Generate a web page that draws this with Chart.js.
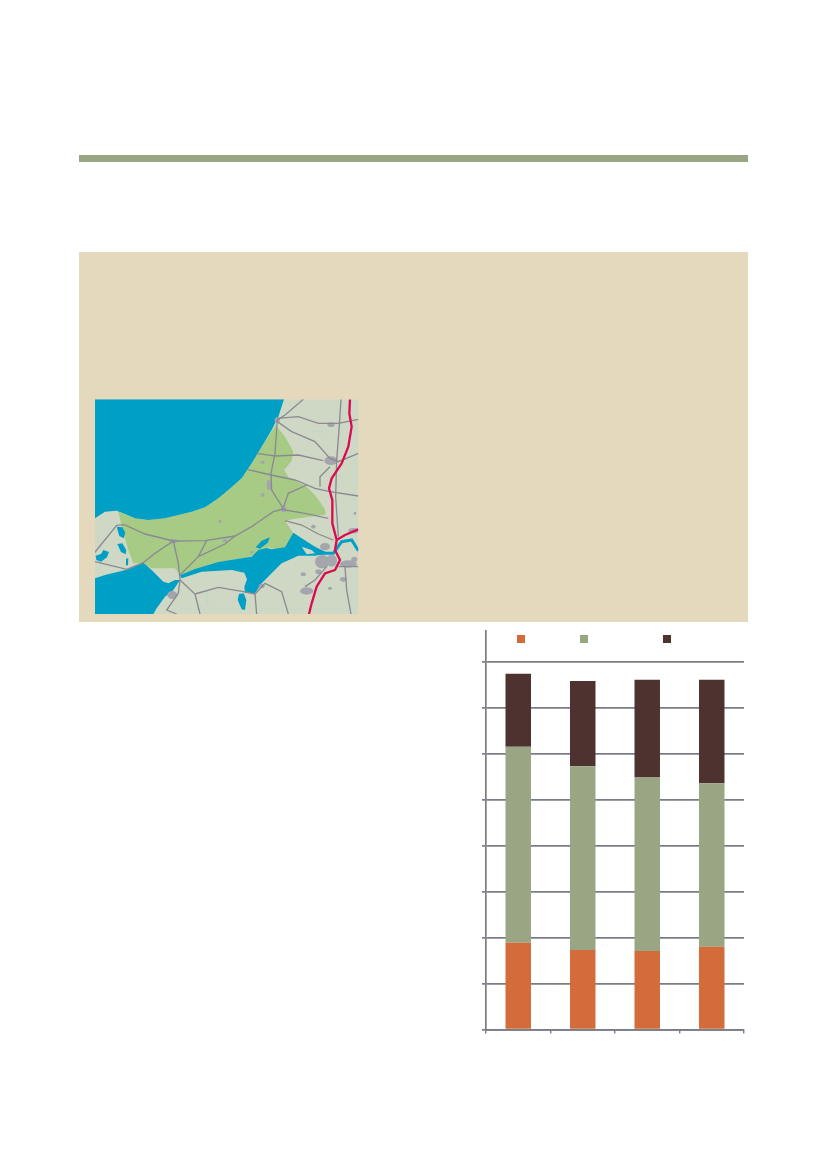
<!DOCTYPE html>
<html>
<head>
<meta charset="utf-8">
<style>
html, body { margin: 0; padding: 0; background: #fff; }
#page { position: relative; width: 827px; height: 1169px; overflow: hidden; }
#rule { position: absolute; left: 79px; top: 155px; width: 669px; height: 7px; background: #9aa583; }
#panel { position: absolute; left: 79px; top: 252px; width: 669px; height: 370px; background: #e4d8bd; }
#map { position: absolute; left: 85px; top: 390px; width: 285px; height: 235px; }
#chart_box { position: absolute; left: 470px; top: 620px; width: 277px; height: 430px; }
.swatch { position: absolute; top: 635px; width: 8px; height: 8px; }
</style>
</head>
<body>
<div id="page">
  <div id="rule"></div>
  <div id="panel"></div>

  <svg id="map" viewBox="0 0 855 705">
    <defs><clipPath id="frame"><rect x="30" y="28" width="790" height="644"/></clipPath></defs>
    <g clip-path="url(#frame)">
      <rect x="30" y="28" width="790" height="644" fill="#cfd8c4"/>
      <!-- green area -->
      <path fill="#a7cb85" d="M100,365 L150,385 L190,390 L240,385 L280,375 L320,365 L360,352 L400,325 L430,300 L470,265 L500,220 L530,170 L572,105 L600,140 L625,185 L620,212 L598,240 L610,262 L665,290 L690,315 L720,358 L722,374 L690,378 L640,385 L600,392 L625,430 L610,465 L585,482 L550,472 L520,490 L490,502 L440,510 L380,525 L330,540 L285,556 L270,535 L240,535 L200,535 L170,520 L145,520 L130,480 L115,430 Z"/>
      <!-- sea -->
      <path fill="#00a0c6" d="M30,28 L597,28 L580,80 L560,120 L530,170 L500,220 L470,265 L430,300 L400,325 L360,352 L320,365 L280,375 L240,385 L190,390 L150,385 L120,372 L95,362 L60,365 L30,385 Z"/>
      <path fill="#00a0c6" d="M30,565 L60,555 L100,545 L130,538 L175,518 L200,540 L235,575 L250,580 L270,570 L285,570 L265,600 L240,620 L215,655 L205,672 L30,672 Z"/>
      <!-- lagoon -->
      <path fill="#00a0c6" d="M285,556 L330,537 L400,516 L470,505 L500,500 L520,480 L545,474 L560,478 L600,472 L625,428 L650,445 L690,470 L730,490 L690,497 L640,497 L590,520 L560,550 L530,580 L510,610 L480,608 L478,590 L486,568 L478,548 L440,540 L350,545 L290,565 Z"/>
      <path fill="none" stroke="#00a0c6" stroke-width="9" d="M650,470 L690,490 L745,490 L770,455 L800,450 L820,482"/>
      <path fill="#cfd8c4" d="M650,470 L680,480 L690,490 L665,493 Z"/>
      <!-- lakes -->
      <path fill="#00a0c6" d="M95,410 L112,412 L121,428 L116,445 L103,438 Z"/>
      <path fill="#00a0c6" d="M97,462 L112,460 L124,480 L122,493 L108,486 Z"/>
      <path fill="#00a0c6" d="M32,497 L48,492 L55,480 L72,486 L66,502 L48,515 L34,510 Z"/>
      <path fill="#00a0c6" d="M123,506 L130,505 L129,526 L123,526 Z"/>
      <path fill="#00a0c6" d="M462,612 L476,610 L484,630 L480,660 L470,658 L458,630 Z"/>
      <path fill="#00a0c6" d="M512,472 L530,452 L555,442 L548,458 L525,476 Z"/>
      <path fill="none" stroke="#a9d4d8" stroke-width="1.5" d="M680,125 L710,122 L730,140 M365,600 L368,640 L390,665"/>
      <!-- urban -->
      <g fill="#a5a5ad">
        <ellipse cx="738" cy="212" rx="20" ry="13"/><ellipse cx="596" cy="357" rx="9" ry="10"/>
        <ellipse cx="262" cy="615" rx="15" ry="12"/><ellipse cx="265" cy="453" rx="12" ry="7"/>
        <ellipse cx="577" cy="90" rx="8" ry="8"/><ellipse cx="552" cy="285" rx="7" ry="16"/>
        <ellipse cx="738" cy="104" rx="11" ry="7"/><ellipse cx="533" cy="315" rx="6" ry="6"/>
        <ellipse cx="712" cy="515" rx="22" ry="20"/><ellipse cx="740" cy="512" rx="16" ry="18"/>
        <ellipse cx="720" cy="470" rx="15" ry="11"/><ellipse cx="790" cy="522" rx="26" ry="11"/>
        <ellipse cx="808" cy="508" rx="9" ry="8"/><ellipse cx="700" cy="545" rx="9" ry="7"/>
        <ellipse cx="665" cy="603" rx="20" ry="11"/><ellipse cx="775" cy="568" rx="10" ry="7"/>
        <ellipse cx="655" cy="553" rx="8" ry="6"/><ellipse cx="805" cy="422" rx="15" ry="8"/>
        <ellipse cx="530" cy="588" rx="9" ry="6"/><ellipse cx="420" cy="452" rx="7" ry="5"/>
        <ellipse cx="533" cy="217" rx="7" ry="5"/><ellipse cx="685" cy="410" rx="7" ry="6"/>
        <ellipse cx="405" cy="394" rx="5" ry="5"/><ellipse cx="500" cy="487" rx="5" ry="4"/>
        <ellipse cx="735" cy="595" rx="6" ry="5"/><ellipse cx="810" cy="370" rx="4" ry="5"/>
      </g>
      <!-- roads -->
      <g fill="none" stroke="#8a8a92" stroke-width="4">
        <path d="M655,28 L600,75 L577,90 L570,190 L558,250 L560,300 L596,357 L600,360 L660,370 L730,385"/>
        <path d="M577,85 L640,80 L700,100 L760,100 L820,88"/>
        <path d="M577,95 L620,125 L690,155 L735,205 L760,215 L820,190"/>
        <path d="M515,190 L570,198 L640,195 L715,212"/>
        <path d="M485,238 L558,255 L630,270 L690,295 L735,305 L820,318"/>
        <path d="M768,28 L762,120 L755,210 L752,320 L760,440"/>
        <path d="M735,230 L705,260 L705,290"/>
        <path d="M665,285 L610,310 L596,350"/>
        <path d="M596,357 L565,365 L500,410 L450,438 L360,452 L265,453 L180,432 L118,404 L95,406 L27,490"/>
        <path d="M265,453 L280,520 L285,570 L280,610 L245,660 L275,672"/>
        <path d="M265,453 L210,490 L175,518 L125,538 L30,515"/>
        <path d="M365,452 L340,500 L285,555"/>
        <path d="M450,438 L420,462 L340,500"/>
        <path d="M600,392 L650,405 L700,432 L745,450"/>
        <path d="M285,570 L330,612 L345,672"/>
        <path d="M330,612 L400,592 L475,605 L510,612 L515,672"/>
        <path d="M510,612 L540,580 L590,605 L610,672"/>
        <path d="M725,530 L690,570 L660,590"/>
        <path d="M760,530 L820,530"/>
        <path d="M780,530 L785,600 L798,672"/>
      </g>
      <!-- motorway -->
      <g fill="none" stroke="#dc0a50" stroke-width="7" stroke-linejoin="round">
        <path d="M795,28 L793,70 L800,110 L790,170 L770,220 L740,265 L732,295 L742,330 L742,400 L755,450 L750,480 L765,510 L750,540 L720,550 L695,590 L680,640 L672,672"/>
        <path d="M755,450 L780,435 L820,418"/>
      </g>
    </g>
  </svg>

  <div id="chart_box"><canvas id="chart"></canvas></div>
  <div class="swatch" style="left:517px;background:#d46b3a"></div>
  <div class="swatch" style="left:580px;background:#9aa583"></div>
  <div class="swatch" style="left:663px;background:#4d3230"></div>
</div>

<script src="https://cdn.jsdelivr.net/npm/chart.js@4"></script>
<script>
// no text is legible in the picture, categories are just numbered
var categories = ["1", "2", "3", "4"]
var bottom_values = [1.89, 1.73, 1.71, 1.80]
var middle_values = [4.26, 4.00, 3.77, 3.56]
var top_values = [1.59, 1.85, 2.13, 2.25]

var axis_color = "#7c7c86"

function makeDataset(name, values, color) {
    return {
        label: name,
        data: values,
        backgroundColor: color,
        barPercentage: 0.395,
        categoryPercentage: 1
    }
}

new Chart(document.getElementById("chart"), {
    type: "bar",
    data: {
        labels: categories,
        datasets: [
            makeDataset("bottom", bottom_values, "#d46b3a"),
            makeDataset("middle", middle_values, "#9aa583"),
            makeDataset("top", top_values, "#4d3230")
        ]
    },
    options: {
        responsive: true,
        maintainAspectRatio: false,
        animation: false,
        layout: { padding: { left: 0, right: 3, top: 11, bottom: 12.5 } },
        plugins: {
            legend: { display: false },
            tooltip: { enabled: false }
        },
        scales: {
            x: {
                stacked: true,
                afterFit: function (scale) { scale.height = 8 },
                border: { color: axis_color, width: 1.7 },
                grid: { drawOnChartArea: false, color: axis_color, lineWidth: 1.4, tickLength: 4 },
                ticks: { display: false }
            },
            y: {
                stacked: true,
                min: 0,
                max: 8.67,
                afterFit: function (scale) { scale.width = 16 },
                border: { color: axis_color, width: 1.7 },
                grid: { color: axis_color, lineWidth: 1.7, tickLength: 4 },
                ticks: { display: false, stepSize: 1, includeBounds: false }
            }
        }
    }
})
</script>
</body>
</html>
